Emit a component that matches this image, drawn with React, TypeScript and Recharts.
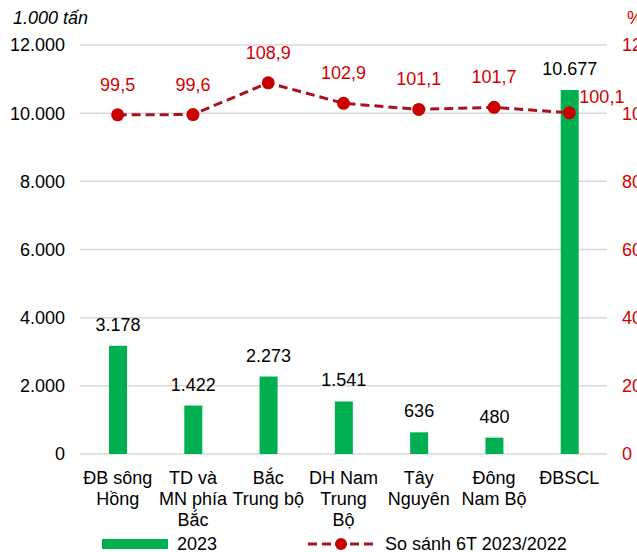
import { ComposedChart, Bar, Line, XAxis, YAxis, CartesianGrid, LabelList } from 'recharts';

const FONT = '"Liberation Sans", Arial, sans-serif';

const regions = ['ĐB sông Hồng', 'TD và MN phía Bắc', 'Bắc Trung bộ', 'DH Nam Trung Bộ', 'Tây Nguyên', 'Đông Nam Bộ', 'ĐBSCL'];
const regionLines = [
  ['ĐB sông', 'Hồng'],
  ['TD và', 'MN phía', 'Bắc'],
  ['Bắc', 'Trung bộ'],
  ['DH Nam', 'Trung', 'Bộ'],
  ['Tây', 'Nguyên'],
  ['Đông', 'Nam Bộ'],
  ['ĐBSCL'],
];
const output2023 = [3178, 1422, 2273, 1541, 636, 480, 10677];
const compare = [99.5, 99.6, 108.9, 102.9, 101.1, 101.7, 100.1];
const leftTicks = [0, 2000, 4000, 6000, 8000, 10000, 12000];
const rightTicks = [0, 20, 40, 60, 80, 100, 120];

const data = regions.map((name, i) => ({ name, value: output2023[i], pct: compare[i], idx: i }));

const fmtThousand = (v: number) => String(v).replace(/\B(?=(\d{3})+(?!\d))/g, '.');
const fmtPct = (v: number) => String(v).replace('.', ',');

const RegionTick = (props: any) => {
  const { x, y, payload } = props;
  const lines = regionLines[payload.index] ?? [payload.value];
  return (
    <g transform={`translate(${x},${y})`}>
      <text textAnchor="middle" fill="#000" fontSize={18} fontFamily={FONT}>
        {lines.map((l, i) => (
          <tspan key={i} x={0} y={22 + i * 21}>{l}</tspan>
        ))}
      </text>
    </g>
  );
};

const PctLabel = (props: any) => {
  const { x, y, value, index } = props;
  const last = index === compare.length - 1;
  return (
    <text
      x={last ? x + 10 : x}
      y={last ? y - 10 : y - 24}
      textAnchor={last ? 'start' : 'middle'}
      fill="#D20000"
      fontSize={18}
      fontFamily={FONT}
    >
      {fmtPct(value)}
    </text>
  );
};

export default function App() {
  return (
    <div style={{ position: 'absolute', left: 0, top: 0, width: 637, height: 552, overflow: 'hidden', background: '#fff' }}>
      <ComposedChart width={690} height={552} data={data} margin={{ top: 45, right: 0, bottom: 0, left: 0 }}>
        <CartesianGrid yAxisId="left" horizontal vertical={false} stroke="#d9d9d9" strokeWidth={1.5} />
        <XAxis
          dataKey="name"
          yAxisId="left"
          axisLine={false}
          tickLine={false}
          interval={0}
          height={98}
          tick={<RegionTick />}
        />
        <YAxis
          yAxisId="left"
          domain={[0, 12000]}
          ticks={leftTicks}
          width={80}
          axisLine={false}
          tickLine={false}
          tickMargin={9}
          tickFormatter={fmtThousand}
          tick={{ fill: '#000', fontSize: 18, fontFamily: FONT }}
        />
        <YAxis
          yAxisId="right"
          orientation="right"
          domain={[0, 120]}
          ticks={rightTicks}
          width={83}
          axisLine={false}
          tickLine={false}
          tickMargin={9}
          tick={{ fill: '#D20000', fontSize: 18, fontFamily: FONT, textAnchor: 'start' }}
        />
        <Bar yAxisId="left" dataKey="value" fill="#00B050" barSize={18} isAnimationActive={false}>
          <LabelList
            dataKey="value"
            position="top"
            offset={15}
            formatter={(v: any) => fmtThousand(v)}
            style={{ fill: '#000', fontSize: 18, fontFamily: FONT }}
          />
        </Bar>
        <Line
          yAxisId="right"
          dataKey="pct"
          stroke="#A8141C"
          strokeWidth={3}
          strokeDasharray="9 5"
          dot={{ r: 6.5, fill: '#C80000', stroke: 'none' }}
          activeDot={false}
          label={<PctLabel />}
          isAnimationActive={false}
        />
      </ComposedChart>
      <svg width={637} height={552} style={{ position: 'absolute', left: 0, top: 0, pointerEvents: 'none' }}>
        <text x={13} y={24} fontSize={18} fontStyle="italic" fontFamily={FONT} fill="#000">1.000 tấn</text>
        <text x={627} y={24} fontSize={18} fontFamily={FONT} fill="#D20000">%</text>
        <rect x={102} y={539} width={66} height={10} fill="#00B050" />
        <text x={177} y={550} fontSize={18} fontFamily={FONT} fill="#000">2023</text>
        <line x1={308} y1={544} x2={375} y2={544} stroke="#A8141C" strokeWidth={3} strokeDasharray="9 5" />
        <circle cx={341} cy={544} r={6} fill="#C80000" />
        <text x={385} y={550} fontSize={18} fontFamily={FONT} fill="#000">So sánh 6T 2023/2022</text>
      </svg>
    </div>
  );
}
